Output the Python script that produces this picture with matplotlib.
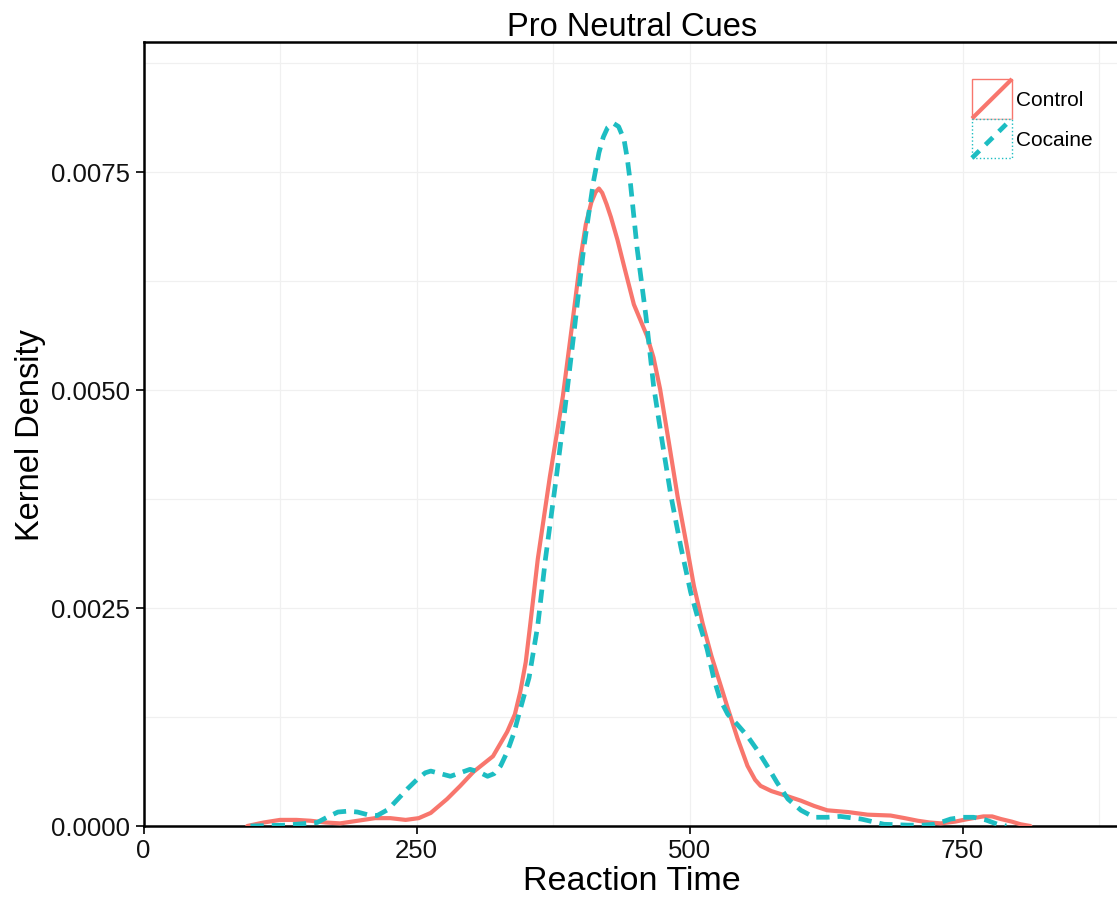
import matplotlib
matplotlib.use("Agg")
import matplotlib.pyplot as plt
from matplotlib.legend_handler import HandlerBase
from matplotlib.patches import Rectangle
from matplotlib.lines import Line2D
from matplotlib.ticker import MultipleLocator

plt.rcParams['font.family'] = ['Liberation Sans', 'DejaVu Sans']

title = "Pro Neutral Cues"
xlabel = "Reaction Time"
ylabel = "Kernel Density"
series_names = ["Control", "Cocaine"]

control_x = [95, 110, 125, 140, 153, 167, 180, 196, 212, 226, 240, 252, 263, 278, 290, 302,
             320, 333, 340, 345, 350, 354, 361, 372, 384, 393, 400, 405, 410, 414, 417,
             420, 424, 428, 434, 440, 449, 455, 461, 467, 473, 481, 489, 497, 504, 512,
             520, 528, 535, 544, 553, 560, 565, 575, 590, 602, 614, 626, 645, 663, 684,
             697, 709, 720, 730, 743, 755, 769, 777, 785, 795, 803, 812]
control_y = [0.0, 0.00004, 0.00007, 0.00007, 0.00006, 0.00004, 0.00003, 0.00006, 0.00009,
             0.00009, 0.00007, 0.00009, 0.00015, 0.00031, 0.00046, 0.00062, 0.00080,
             0.00108, 0.00128, 0.00154, 0.00188, 0.00230, 0.00306, 0.00400, 0.00493,
             0.00580, 0.00650, 0.00690, 0.00715, 0.00727, 0.00731, 0.00726, 0.00713,
             0.00698, 0.00672, 0.00642, 0.00598, 0.00580, 0.00562, 0.00537, 0.00501,
             0.00440, 0.00378, 0.00324, 0.00275, 0.00232, 0.00195, 0.00163, 0.00135,
             0.00100, 0.00069, 0.00053, 0.00046, 0.00040, 0.00034, 0.00029, 0.00023,
             0.00018, 0.00016, 0.00013, 0.00012, 0.00009, 0.00006, 0.00004, 0.00003,
             0.00005, 0.00008, 0.00011, 0.00011, 0.00008, 0.00005, 0.00002, 0.0]

cocaine_x = [98, 130, 159, 168, 178, 187, 196, 205, 214, 224, 233, 242, 251, 258, 263,
             272, 281, 290, 299, 307, 315, 321, 327, 333, 339, 345, 353, 361, 368, 378,
             387, 395, 403, 408, 412, 417, 421, 425, 430, 435, 440, 443, 446, 452, 460,
             467, 475, 483, 492, 501, 509, 516, 522, 528, 535, 544, 553, 562, 571, 580,
             590, 602, 614, 626, 638, 657, 678, 700, 714, 724, 732, 739, 750, 760, 771,
             782, 790]
cocaine_y = [0.0, 0.00001, 0.00004, 0.00010, 0.00016, 0.00017, 0.00016, 0.00013, 0.00012,
             0.00019, 0.00031, 0.00043, 0.00054, 0.00061, 0.00063, 0.00060, 0.00057,
             0.00061, 0.00065, 0.00062, 0.00057, 0.00060, 0.00069, 0.00085, 0.00106,
             0.00134, 0.00170, 0.00230, 0.00306, 0.00400, 0.00490, 0.00575, 0.00662,
             0.00705, 0.00739, 0.00772, 0.00790, 0.00801, 0.00806, 0.00802, 0.00787,
             0.00765, 0.00735, 0.00662, 0.00585, 0.00505, 0.00440, 0.00378, 0.00320,
             0.00268, 0.00232, 0.00203, 0.00170, 0.00145, 0.00128, 0.00116, 0.00103,
             0.00087, 0.00069, 0.00050, 0.00031, 0.00018, 0.00010, 0.00010, 0.00011,
             0.00008, 0.00002, 0.00001, 0.00001, 0.00002, 0.00005, 0.00008, 0.00010,
             0.00010, 0.00007, 0.00002, 0.0]

x_ticks = [0, 250, 500, 750]
y_ticks = [0.0, 0.0025, 0.005, 0.0075]
y_ticklabels = ["0.0000", "0.0025", "0.0050", "0.0075"]

RED = "#F8766D"
TEAL = "#1DBDC2"

W, H = 1117, 903
fig = plt.figure(figsize=(W / 100, H / 100), dpi=100)
left_px, right_px, top_px, bottom_px = 143.5, 1121, 43, 827
ax = fig.add_axes([left_px / W, 1 - bottom_px / H, (right_px - left_px) / W, (bottom_px - top_px) / H])

ax.set_xlim(0, 895)
ax.set_ylim(0, 0.00899)

ax.xaxis.set_minor_locator(MultipleLocator(125))
ax.yaxis.set_minor_locator(MultipleLocator(0.00125))
ax.grid(True, which='both', color='#f0f0f0', lw=0.9, zorder=0)
ax.set_axisbelow(True)

l1, = ax.plot(control_x, control_y, color=RED, lw=3.0, solid_capstyle='round',
              solid_joinstyle='round', zorder=3)
l2, = ax.plot(cocaine_x, cocaine_y, color=TEAL, lw=3.4, dashes=(2.8, 1.7),
              dash_capstyle='butt', dash_joinstyle='round', zorder=4)

ax.set_xticks(x_ticks)
ax.set_xticklabels([str(v) for v in x_ticks])
ax.set_yticks(y_ticks)
ax.set_yticklabels(y_ticklabels)
ax.tick_params(which='major', direction='out', length=5.5, width=1.2, color='black',
               labelsize=18.5, labelcolor='#111111')
ax.tick_params(axis='y', which='major', pad=4.5)
ax.tick_params(axis='x', which='major', pad=3.5)
ax.tick_params(which='minor', length=0)

for s in ax.spines.values():
    s.set_color('black')
    s.set_linewidth(1.8)

ax.set_title(title, fontsize=23.5, pad=4)
ax.set_xlabel(xlabel, fontsize=24.5, labelpad=2)
ax.set_ylabel(ylabel, fontsize=23.5, labelpad=3)


class BoxLineHandler(HandlerBase):
    def __init__(self, color, line_kw, box_ls):
        super().__init__()
        self.color = color
        self.line_kw = line_kw
        self.box_ls = box_ls

    def create_artists(self, legend, orig_handle, xdescent, ydescent, width, height,
                       fontsize, trans):
        x0, y0 = -xdescent, -ydescent
        rect = Rectangle((x0, y0), width, height, facecolor='white', edgecolor=self.color,
                         lw=1.0, linestyle=self.box_ls, transform=trans)
        line = Line2D([x0, x0 + width], [y0, y0 + height], color=self.color,
                      transform=trans, **self.line_kw)
        return [rect, line]


handler_map = {
    l1: BoxLineHandler(RED, dict(lw=3.0, solid_capstyle='butt'), '-'),
    l2: BoxLineHandler(TEAL, dict(lw=3.4, dashes=(2.2, 1.8)), ':'),
}
fs = 15
fpx = fs * 100 / 72
box_h = 39.5
hh = (box_h - 0.245 * fpx) / (0.65 * fpx)
leg = fig.legend([l1, l2], series_names, handler_map=handler_map,
                 loc='upper left', bbox_to_anchor=(972 / W, 1 - 80 / H),
                 frameon=False, fontsize=fs, borderpad=0, borderaxespad=0,
                 handlelength=40 / fpx, handleheight=hh,
                 labelspacing=0, handletextpad=0.2)

fig.savefig("out.png", dpi=100, facecolor='white')
